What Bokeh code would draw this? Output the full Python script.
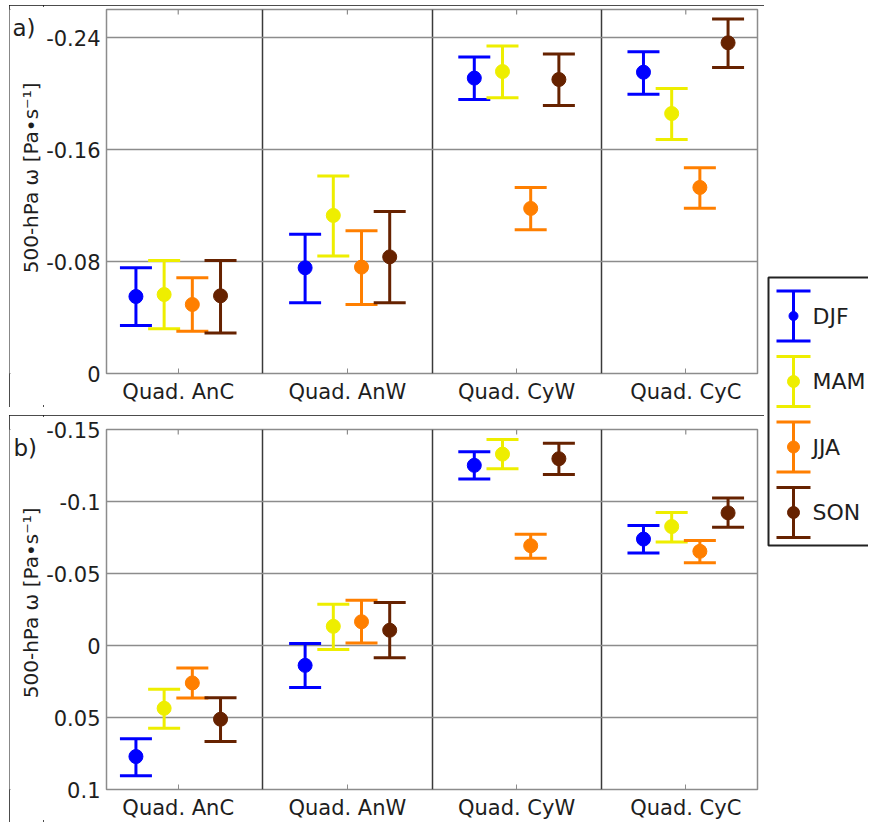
import numpy as np
from bokeh.plotting import figure
from bokeh.models import (ColumnDataSource, Whisker, TeeHead, Range1d, FixedTicker, Spacer)
from bokeh.layouts import row, column
from bokeh.embed import file_html
from bokeh.resources import INLINE
from bokeh.core.properties import value

# ---------------- data ----------------
categories = ["Quad. AnC", "Quad. AnW", "Quad. CyW", "Quad. CyC"]
seasons = ["DJF", "MAM", "JJA", "SON"]
colors = ["#0000ff", "#eeee00", "#ff7f00", "#662200"]

# panel a) 500-hPa omega (Pa/s): mean, lower (min) and upper (max) bound
djf_a_mean = [-0.055, -0.0755, -0.211, -0.2152]
djf_a_lo = [-0.0755, -0.0995, -0.226, -0.2298]
djf_a_hi = [-0.0343, -0.0505, -0.1957, -0.1995]
mam_a_mean = [-0.0564, -0.1129, -0.2157, -0.1857]
mam_a_lo = [-0.0807, -0.141, -0.234, -0.2036]
mam_a_hi = [-0.0319, -0.084, -0.197, -0.1671]
jja_a_mean = [-0.0493, -0.076, -0.1179, -0.1329]
jja_a_lo = [-0.0684, -0.102, -0.1329, -0.1469]
jja_a_hi = [-0.0302, -0.0493, -0.1026, -0.118]
son_a_mean = [-0.0555, -0.0833, -0.21, -0.2362]
son_a_lo = [-0.0807, -0.1157, -0.2283, -0.2533]
son_a_hi = [-0.029, -0.0505, -0.1914, -0.2186]

# panel b)
djf_b_mean = [0.0771, 0.0138, -0.1251, -0.0739]
djf_b_lo = [0.0647, -0.0014, -0.1345, -0.0833]
djf_b_hi = [0.0904, 0.0292, -0.1157, -0.0643]
mam_b_mean = [0.0436, -0.0133, -0.1329, -0.0826]
mam_b_lo = [0.0303, -0.0287, -0.143, -0.0923]
mam_b_hi = [0.0574, 0.0028, -0.1228, -0.0718]
jja_b_mean = [0.026, -0.0165, -0.0693, -0.0654]
jja_b_lo = [0.0156, -0.0315, -0.0773, -0.073]
jja_b_hi = [0.0365, -0.0018, -0.0606, -0.0574]
son_b_mean = [0.0512, -0.0106, -0.1297, -0.0921]
son_b_lo = [0.0363, -0.0298, -0.1405, -0.1024]
son_b_hi = [0.0666, 0.0085, -0.1187, -0.0822]

a_ticks = [-0.24, -0.16, -0.08, 0.0]
a_tick_labels = ["-0.24", "-0.16", "-0.08", "0"]
b_ticks = [-0.15, -0.1, -0.05, 0.0, 0.05, 0.1]
b_tick_labels = ["-0.15", "-0.1", "-0.05", "0", "0.05", "0.1"]

panel_a = [(djf_a_mean, djf_a_lo, djf_a_hi), (mam_a_mean, mam_a_lo, mam_a_hi),
           (jja_a_mean, jja_a_lo, jja_a_hi), (son_a_mean, son_a_lo, son_a_hi)]
panel_b = [(djf_b_mean, djf_b_lo, djf_b_hi), (mam_b_mean, mam_b_lo, mam_b_hi),
           (jja_b_mean, jja_b_lo, jja_b_hi), (son_b_mean, son_b_lo, son_b_hi)]

FONT = "DejaVu Sans"
TXT = "#1e1e1e"
YLABEL = "500-hPa ω [Pa•s⁻¹]"
OUTLINE = {"outline": "2px solid #111111", "outline-offset": "-2px"}

LW = 34          # left strip (panel tag + axis title)
PW = 721         # panel figure width
X0, X1 = 0.576, 4.424
BL, BR = 61, 7


def make_panel(series, y_start, y_end, ticks, tick_labels, height, btop, bbot):
    p = figure(width=PW, height=height, x_range=Range1d(X0, X1),
               y_range=Range1d(y_start, y_end), output_backend="svg",
               toolbar_location=None, min_border_left=BL, min_border_right=BR,
               min_border_top=btop, min_border_bottom=bbot,
               background_fill_color="white", border_fill_color="white")
    p.outline_line_color = "#8c8c8c"
    p.outline_line_width = 1.5

    pos = np.arange(1, len(categories) + 1)
    p.xgrid.ticker = FixedTicker(ticks=[float(v) for v in pos[:-1] + 0.5])
    p.xgrid.grid_line_color = "#3a3a3a"
    p.xgrid.grid_line_width = 1.5
    p.ygrid.ticker = FixedTicker(ticks=ticks)
    p.ygrid.grid_line_color = "#8c8c8c"
    p.ygrid.grid_line_width = 1.5

    xa = p.xaxis[0]
    xa.ticker = FixedTicker(ticks=[int(v) for v in pos])
    xa.major_label_overrides = {int(k): c for k, c in zip(pos, categories)}
    xa.major_label_text_font = FONT
    xa.major_label_text_font_size = "21px"
    xa.major_label_text_color = TXT
    xa.major_label_standoff = 6
    xa.major_tick_in = 5
    xa.major_tick_out = 0
    xa.major_tick_line_color = "#8c8c8c"
    xa.minor_tick_line_color = None
    xa.axis_line_color = None

    # inward tick marks on the top edge of the box (half of the dash is clipped)
    p.scatter(x=[float(v) for v in pos], y=[y_end] * len(pos), marker="dash",
              angle=np.pi / 2, size=10, line_color="#8c8c8c", line_width=1.2)

    ya = p.yaxis[0]
    ya.ticker = FixedTicker(ticks=ticks)
    ya.major_label_overrides = {t: l for t, l in zip(ticks, tick_labels)}
    ya.major_label_text_font = FONT
    ya.major_label_text_font_size = "21px"
    ya.major_label_text_color = TXT
    ya.major_label_standoff = 6
    ya.major_tick_in = 0
    ya.major_tick_out = 0
    ya.minor_tick_line_color = None
    ya.axis_line_color = None

    for i, ((mean, lo, hi), col) in enumerate(zip(series, colors)):
        off = (i - 1.5) / 6.0
        src = ColumnDataSource(dict(x=pos + off, y=mean, lo=lo, hi=hi))
        w = Whisker(base="x", upper="hi", lower="lo", source=src, dimension="height",
                    line_color=col, line_width=3, level="underlay",
                    upper_head=TeeHead(size=32, line_color=col, line_width=3),
                    lower_head=TeeHead(size=32, line_color=col, line_width=3))
        p.add_layout(w)
        p.scatter("x", "y", source=src, marker="circle", size=14,
                  fill_color=col, line_color=col)
    return p


def make_strip(height, tag, tag_x, tag_y, title_y):
    s = figure(width=LW, height=height, x_range=Range1d(0, LW), y_range=Range1d(height, 0),
               output_backend="svg", toolbar_location=None, x_axis_type=None,
               y_axis_type=None, min_border=0, min_border_left=0, min_border_right=0,
               min_border_top=0, min_border_bottom=0,
               background_fill_color="white", border_fill_color="white")
    s.outline_line_color = None
    s.text(x=[tag_x], y=[tag_y], text=[tag], text_font=value(FONT), text_font_size="23px",
           text_baseline="top", text_align="left", text_color=TXT)
    s.text(x=[21], y=[title_y], text=[YLABEL], text_font=value(FONT), text_font_size="20px",
           text_baseline="middle", text_align="center", angle=np.pi / 2, text_color=TXT)
    return s


HA, HB = 402, 407
fa = make_panel(panel_a, 0.0, -0.26, a_ticks, a_tick_labels, HA, 4, 34)
fb = make_panel(panel_b, 0.1, -0.15, b_ticks, b_tick_labels, HB, 14, 33)
sa = make_strip(HA, "a)", 3, 6, 186)
sb = make_strip(HB, "b)", 4, 6, 196)

# ---------------- legend (separate column spanning both panels) ----------------
LH = 822
fl = figure(width=104, height=LH, x_range=Range1d(0, 104), y_range=Range1d(LH, 0),
            output_backend="svg", toolbar_location=None, x_axis_type=None,
            y_axis_type=None, min_border=0, min_border_left=0, min_border_right=0,
            min_border_top=0, min_border_bottom=0,
            background_fill_color="white", border_fill_color="white")
fl.outline_line_color = None
fl.quad(left=[4], right=[140], top=[277], bottom=[545], fill_color=None,
        line_color="#222222", line_width=2)
msizes = [9, 12, 12, 12]
for i, (s, col) in enumerate(zip(seasons, colors)):
    c = 315.5 + 65.5 * i
    fl.segment(x0=[29], y0=[c - 25], x1=[29], y1=[c + 25], line_color=col, line_width=3)
    fl.segment(x0=[12, 12], y0=[c - 25, c + 25], x1=[46, 46], y1=[c - 25, c + 25],
               line_color=col, line_width=3)
    fl.scatter(x=[29], y=[c], marker="circle", size=msizes[i], fill_color=col, line_color=col)
    fl.text(x=[48], y=[c], text=[s], text_font=value(FONT), text_font_size="22px",
            text_baseline="middle", text_align="left", text_color=TXT)

rowa = row(sa, fa, styles=OUTLINE)
rowb = row(sb, fb, styles=OUTLINE)
panels = column(Spacer(height=5), rowa, Spacer(height=8), rowb)
p = row(Spacer(width=9), panels, fl)
open("out.html", "w").write(file_html(p, INLINE))
